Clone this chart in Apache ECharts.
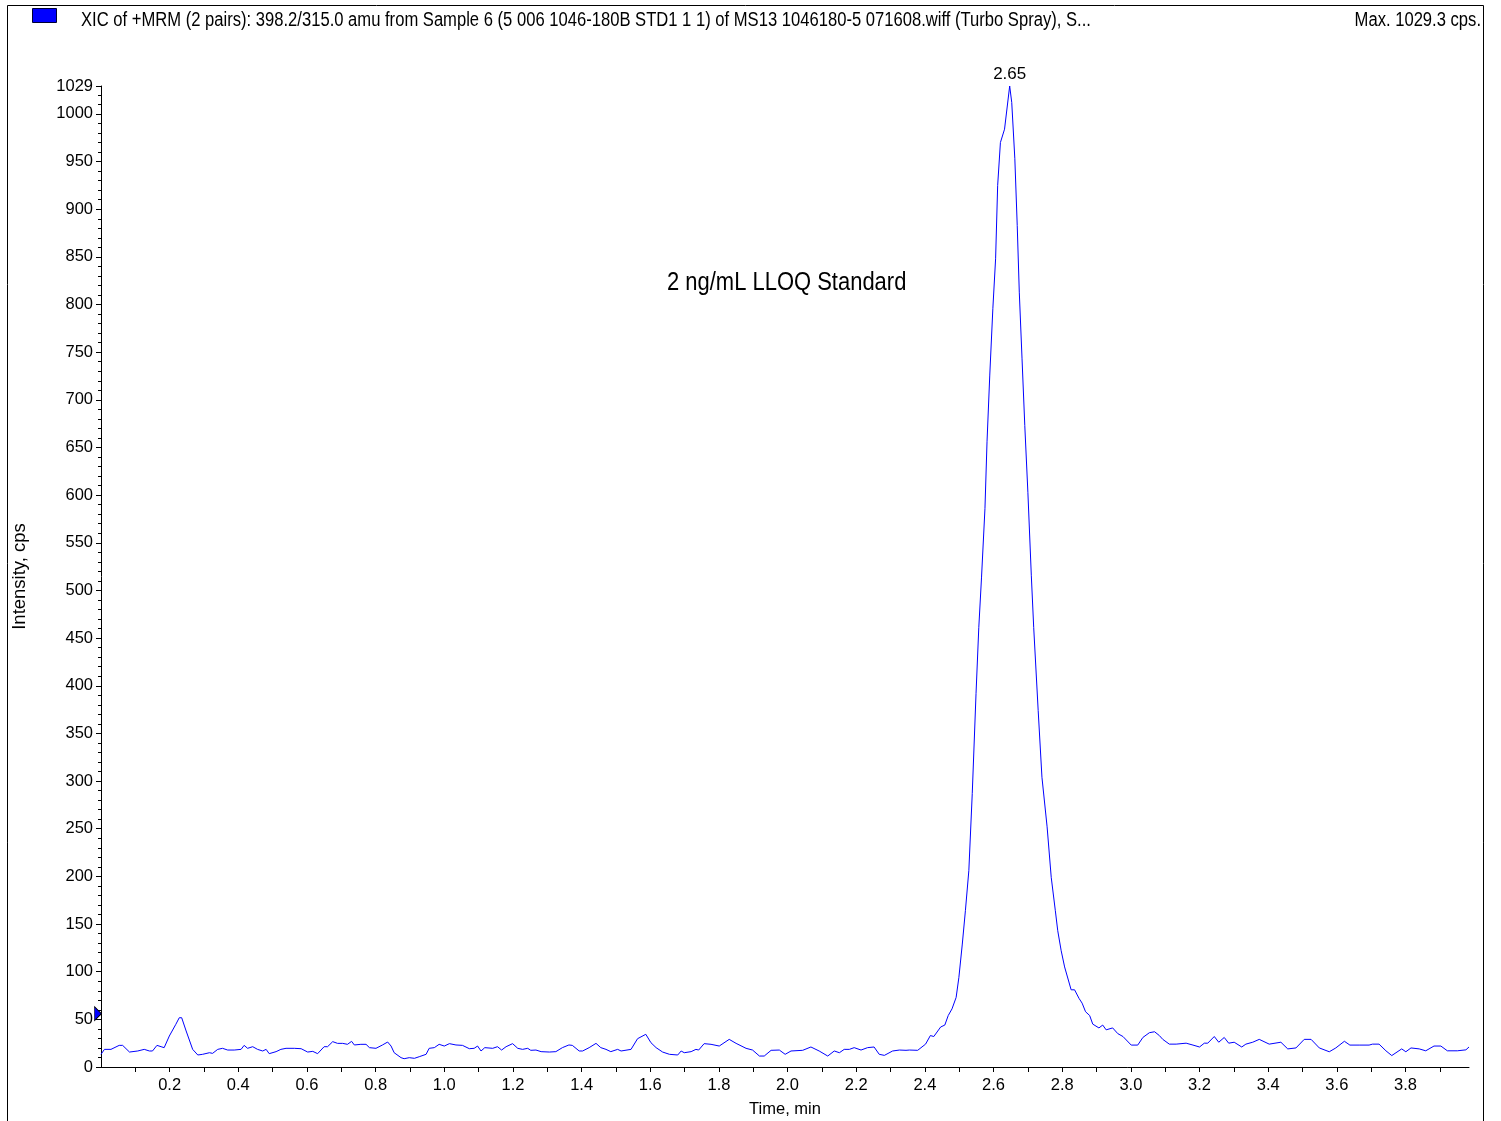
<!DOCTYPE html>
<html>
<head>
<meta charset="utf-8">
<title>XIC 398.2/315.0</title>
<script src="https://cdn.jsdelivr.net/npm/echarts@6/dist/echarts.min.js"></script>
<style>
  html, body { margin: 0; padding: 0; background: #fff; }
  #chart { width: 1501px; height: 1121px; }
</style>
</head>
<body>
<div id="chart"></div>
<script>
// trace: [time (min), intensity (cps)]
const baselineLeft = [
  [0.000, 13.3], [0.010, 18.5], [0.029, 18.5], [0.053, 22.7], [0.063, 22.7], [0.083, 15.7],
  [0.107, 16.8], [0.126, 18.5], [0.141, 16.8], [0.150, 16.8], [0.163, 22.7], [0.175, 21.3],
  [0.184, 20.3], [0.199, 32.5], [0.218, 44.8], [0.228, 51.7], [0.235, 51.7], [0.248, 37.8],
  [0.267, 18.5], [0.282, 12.6], [0.296, 13.3], [0.316, 15.0], [0.325, 14.3], [0.340, 18.5],
  [0.354, 19.6], [0.369, 17.8], [0.388, 17.8], [0.408, 18.5], [0.417, 22.7], [0.427, 19.6],
  [0.442, 21.3], [0.456, 18.5], [0.471, 16.8], [0.481, 18.5], [0.490, 14.0], [0.510, 16.1],
  [0.524, 18.5], [0.539, 19.6], [0.563, 19.6], [0.583, 19.2], [0.602, 15.7], [0.617, 16.4],
  [0.631, 14.0], [0.650, 21.3], [0.660, 21.3], [0.675, 26.6], [0.689, 24.8], [0.704, 24.8],
  [0.718, 23.8], [0.730, 26.9], [0.738, 23.1], [0.757, 23.8], [0.772, 23.8], [0.782, 20.3],
  [0.801, 19.6], [0.820, 23.1], [0.835, 26.2], [0.845, 22.0], [0.854, 15.0], [0.874, 9.8],
  [0.883, 8.7], [0.898, 9.8], [0.913, 9.1], [0.927, 10.8], [0.947, 13.3], [0.956, 19.6],
  [0.971, 20.3], [0.985, 23.8], [1.000, 22.0], [1.015, 24.5], [1.034, 23.1], [1.053, 22.7],
  [1.073, 19.2], [1.087, 19.6], [1.097, 22.0], [1.107, 16.8], [1.118, 20.3], [1.141, 19.6],
  [1.155, 21.3], [1.167, 17.8], [1.180, 21.3], [1.199, 24.5], [1.214, 19.6], [1.228, 18.5],
  [1.243, 19.6], [1.252, 17.5], [1.267, 17.8], [1.282, 16.1]
];
const baselineMid = [
  [1.306, 15.7], [1.325, 16.1], [1.344, 20.3], [1.363, 23.1], [1.373, 22.7], [1.393, 16.8],
  [1.403, 16.8], [1.422, 20.3], [1.442, 24.8], [1.456, 20.3], [1.471, 18.5], [1.485, 16.1],
  [1.505, 18.5], [1.515, 16.8], [1.544, 18.5], [1.563, 29.7], [1.587, 34.3], [1.602, 25.5],
  [1.617, 20.3], [1.636, 15.7], [1.656, 13.3], [1.680, 12.6], [1.690, 16.8], [1.699, 15.0],
  [1.719, 16.1], [1.733, 18.5], [1.741, 17.8], [1.757, 24.5], [1.777, 23.8], [1.801, 22.0],
  [1.830, 29.0], [1.850, 24.8], [1.879, 19.6], [1.898, 17.8], [1.918, 11.5], [1.932, 11.5],
  [1.952, 17.5], [1.976, 17.8], [1.993, 13.3], [2.010, 16.8], [2.044, 17.5], [2.068, 21.0],
  [2.092, 16.8], [2.117, 11.5], [2.136, 16.8], [2.151, 15.0], [2.165, 18.5], [2.180, 18.5],
  [2.194, 20.3], [2.214, 17.8], [2.233, 20.3], [2.252, 21.0], [2.267, 13.3], [2.282, 12.2],
  [2.306, 16.8], [2.326, 17.8], [2.345, 17.5], [2.355, 17.8], [2.379, 17.5]
];
const peak = [
  [2.402, 24], [2.416, 33], [2.426, 32], [2.446, 42], [2.458, 44], [2.468, 54], [2.479, 61],
  [2.491, 73], [2.499, 94], [2.509, 129], [2.518, 164], [2.528, 206], [2.538, 287], [2.549, 392],
  [2.557, 461], [2.565, 514], [2.575, 586], [2.581, 656], [2.589, 726], [2.598, 796], [2.606, 848],
  [2.612, 925], [2.620, 970], [2.632, 984], [2.647, 1029.3], [2.653, 1012], [2.662, 953],
  [2.669, 883], [2.675, 813], [2.683, 743], [2.691, 673], [2.700, 603], [2.710, 516], [2.717, 461],
  [2.730, 374], [2.741, 304], [2.756, 252], [2.768, 199], [2.780, 164], [2.787, 143], [2.797, 122]
];
const baselineRight = [
  [2.807, 105], [2.826, 81], [2.836, 81], [2.849, 72], [2.858, 67], [2.868, 58], [2.880, 54],
  [2.889, 45], [2.907, 41], [2.918, 44], [2.928, 39], [2.947, 41], [2.962, 35], [2.977, 32],
  [3.001, 23], [3.020, 23], [3.035, 31], [3.054, 36], [3.069, 37], [3.083, 33], [3.093, 29],
  [3.112, 24], [3.132, 24], [3.161, 25], [3.181, 23], [3.200, 21], [3.214, 25], [3.224, 25],
  [3.243, 32], [3.256, 26], [3.272, 31], [3.285, 25], [3.301, 26], [3.323, 21], [3.335, 24],
  [3.355, 26], [3.374, 29], [3.403, 24], [3.437, 26], [3.457, 19], [3.481, 20], [3.505, 29],
  [3.525, 29], [3.549, 20], [3.578, 16], [3.597, 20], [3.622, 27], [3.638, 23], [3.665, 23],
  [3.694, 23], [3.704, 24], [3.723, 24], [3.743, 17], [3.760, 12], [3.789, 19], [3.801, 16],
  [3.816, 20], [3.840, 19], [3.859, 17], [3.883, 22], [3.903, 22], [3.922, 17], [3.951, 17],
  [3.976, 18], [3.985, 21]
];

// axis ticks / labels
const xTicks = [0.1, 0.2, 0.3, 0.4, 0.5, 0.6, 0.7, 0.8, 0.9, 1.0, 1.1, 1.2, 1.3, 1.4, 1.5, 1.6,
  1.7, 1.8, 1.9, 2.0, 2.1, 2.2, 2.3, 2.4, 2.5, 2.6, 2.7, 2.8, 2.9, 3.0, 3.1, 3.2, 3.3, 3.4, 3.5,
  3.6, 3.7, 3.8, 3.9];
const xLabels = [0.2, 0.4, 0.6, 0.8, 1.0, 1.2, 1.4, 1.6, 1.8, 2.0, 2.2, 2.4, 2.6, 2.8, 3.0, 3.2,
  3.4, 3.6, 3.8];
const xMax = 3.985;
const yMax = 1029.3;
const markerLevel = 56;

const titleText = 'XIC of +MRM (2 pairs): 398.2/315.0 amu from Sample 6 (5 006 1046-180B STD1 1 1) of MS13 1046180-5 071608.wiff (Turbo Spray), S...';
const maxText = 'Max. 1029.3 cps.';
const noteText = '2 ng/mL LLOQ Standard';

// no Arial Narrow here, so regular Liberation Sans squeezed sideways where we can
const FONT = "'Liberation Sans', Arial, sans-serif";
const SQUEEZE = 0.83;

const trace = [...baselineLeft, ...baselineMid, ...peak, ...baselineRight];
let topIdx = 0;
trace.forEach((p, i) => { if (p[1] > trace[topIdx][1]) topIdx = i });
const topPoint = trace[topIdx];

const chart = echarts.init(document.getElementById('chart'), null, { renderer: 'canvas' });

const option = {
  backgroundColor: '#fff',
  animation: false,
  grid: { left: 101, right: 32, top: 86, bottom: 54, containLabel: false, outerBoundsMode: 'none' },
  xAxis: {
    type: 'value',
    min: 0,
    max: xMax,
    name: 'Time, min',
    nameLocation: 'middle',
    nameGap: 34,
    nameTextStyle: { color: '#000', fontFamily: FONT, fontSize: 16.5 },
    axisLine: { lineStyle: { color: '#000', width: 1 } },
    axisTick: { show: true, length: 5, lineStyle: { color: '#000' }, customValues: xTicks },
    axisLabel: {
      color: '#000', fontFamily: FONT, fontSize: 16.5, margin: 10,
      customValues: xLabels,
      formatter: v => v.toFixed(1)
    },
    splitLine: { show: false }
  },
  yAxis: {
    type: 'value',
    min: 0,
    max: yMax,
    interval: 50,
    name: 'Intensity, cps',
    nameLocation: 'middle',
    nameGap: 72,
    nameRotate: 90,
    nameTextStyle: { color: '#000', fontFamily: FONT, fontSize: 18.5 },
    axisLine: { show: true, lineStyle: { color: '#000', width: 1 } },
    axisTick: { show: true, length: 5, lineStyle: { color: '#000' } },
    minorTick: { show: true, splitNumber: 5, length: 3, lineStyle: { color: '#000' } },
    axisLabel: {
      color: '#000', fontFamily: FONT, fontSize: 16.5, margin: 8,
      formatter: v => String(Math.round(v))
    },
    splitLine: { show: false }
  },
  graphic: [
    {
      type: 'rect', silent: true, z: 0,
      shape: { x: 7.5, y: 5.5, width: 1476, height: 1130 },
      style: { fill: null, stroke: '#000', lineWidth: 1 }
    },
    {
      type: 'rect', silent: true,
      shape: { x: 32.5, y: 8.5, width: 24, height: 14 },
      style: { fill: '#0000ff', stroke: '#000033', lineWidth: 1 }
    },
    {
      type: 'text', x: 81, y: 20, scaleX: SQUEEZE, silent: true,
      style: { text: titleText, fill: '#000', font: '20px ' + FONT, textVerticalAlign: 'middle' }
    },
    {
      type: 'text', x: 1481, y: 20, scaleX: SQUEEZE, silent: true,
      style: { text: maxText, fill: '#000', font: '20px ' + FONT, textAlign: 'right', textVerticalAlign: 'middle' }
    },
    {
      type: 'text', x: 667, y: 283, scaleX: 0.845, silent: true,
      style: { text: noteText, fill: '#000', font: '26px ' + FONT, textVerticalAlign: 'middle' }
    }
  ],
  series: [
    {
      type: 'line',
      data: trace,
      showSymbol: false,
      symbol: 'none',
      lineStyle: { color: '#0000ff', width: 1 },
      itemStyle: { color: '#0000ff' },
      markPoint: {
        silent: true,
        data: [
          {
            coord: [0, markerLevel],
            symbol: 'triangle',
            symbolSize: [14, 7],
            symbolRotate: -90,
            symbolOffset: [-3, 0],
            itemStyle: { color: '#0000ff', borderColor: '#000', borderWidth: 0.8 },
            label: { show: false }
          },
          {
            coord: topPoint,
            symbol: 'circle',
            symbolSize: 1,
            itemStyle: { color: 'rgba(0,0,0,0)' },
            label: {
              show: true,
              position: 'top',
              distance: 3,
              formatter: topPoint[0].toFixed(2),
              color: '#000',
              fontFamily: FONT,
              fontSize: 17
            }
          }
        ]
      }
    }
  ]
};

chart.setOption(option);
window.addEventListener('resize', () => chart.resize());
</script>
</body>
</html>
